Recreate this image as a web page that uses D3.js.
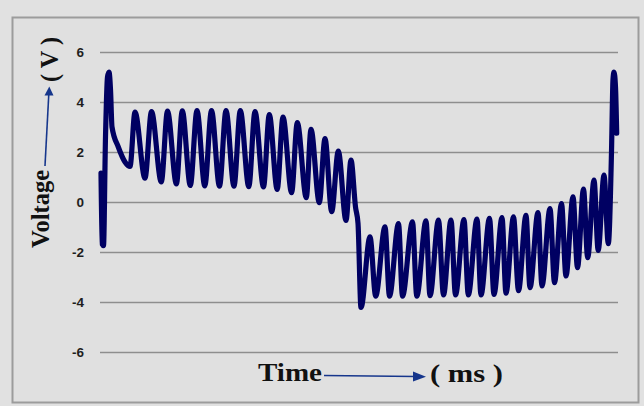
<!DOCTYPE html>
<html>
<head>
<meta charset="utf-8">
<script src="https://cdn.jsdelivr.net/npm/d3@7"></script>
<style>
  html, body { margin: 0; padding: 0; background: #e1e1e1; }
  svg { display: block; }
</style>
</head>
<body>
<svg id="chart" width="644" height="406"></svg>
<script>
// ---- data (time in ms, voltage in V) ----
const yTicks = [-6, -4, -2, 0, 2, 4, 6];
const xLabel = "Time";
const xUnit = "( ms )";
const yLabel = "Voltage";
const yUnit = "( V )";

// start-up transient
const onsetT = [0.1, 0.23, 0.35, 0.55, 0.75, 0.9, 1.05, 1.2, 1.83, 2.5, 3.0];
const onsetV = [1.16, -1.7, -1.75, 2.6, 5.0, 5.2, 4.5, 3.0, 2.2, 1.6, 1.42];

// positive half: ripple peaks and troughs
const posPeakT = [3.5, 5.15, 6.75, 8.23, 9.7, 11.15, 12.6, 14.03, 15.5, 16.93, 18.3, 19.73, 21.1, 22.5, 23.83, 25.1];
const posPeakV = [3.6, 3.62, 3.64, 3.65, 3.66, 3.66, 3.66, 3.66, 3.62, 3.5, 3.4, 3.18, 2.91, 2.54, 2.04, 1.68];
const posTroughT = [4.5, 6.13, 7.64, 9.03, 10.48, 11.95, 13.4, 14.88, 16.35, 17.72, 19.16, 20.63, 21.93, 23.17, 24.6];
const posTroughV = [0.95, 0.8, 0.72, 0.66, 0.64, 0.63, 0.63, 0.61, 0.6, 0.5, 0.37, 0.17, -0.03, -0.39, -0.74];

// polarity switch
const switchT = [25.55, 25.8, 26.1];
const switchV = [-0.2, -0.85, -4.22];

// negative half: ripple peaks and troughs
const negPeakT = [27.0, 28.5, 29.85, 31.25, 32.6, 33.85, 35.1, 36.4, 37.7, 38.95, 40.2, 41.35, 42.6, 43.8, 45.0, 46.15, 47.3, 48.35, 49.4, 50.4];
const negPeakV = [-1.39, -0.99, -0.86, -0.79, -0.75, -0.72, -0.72, -0.7, -0.68, -0.65, -0.62, -0.59, -0.53, -0.42, -0.26, -0.06, 0.21, 0.52, 0.88, 1.08];
const negTroughT = [27.57, 28.95, 30.25, 31.68, 33.0, 34.35, 35.55, 36.83, 38.1, 39.4, 40.6, 41.85, 43.0, 44.2, 45.45, 46.6, 47.75, 48.77, 49.82, 50.83];
const negTroughV = [-3.77, -3.77, -3.77, -3.77, -3.75, -3.72, -3.72, -3.72, -3.72, -3.7, -3.65, -3.55, -3.43, -3.36, -3.23, -2.96, -2.63, -2.23, -1.94, -1.67];

// final spike
const endT = [51.15, 51.3, 51.4, 51.55, 51.67];
const endV = [2.0, 4.9, 5.2, 4.6, 2.75];

// ---- build series ----
function pairs(ts, vs) { return ts.map((t, i) => ({ t: t, v: vs[i] })); }
const points = [].concat(
  pairs(onsetT, onsetV),
  pairs(posPeakT, posPeakV),
  pairs(posTroughT, posTroughV),
  pairs(switchT, switchV),
  pairs(negPeakT, negPeakV),
  pairs(negTroughT, negTroughV),
  pairs(endT, endV)
).sort((a, b) => a.t - b.t);

// ---- layout ----
const svg = d3.select("#chart");
const W = 644, H = 406;
const plot = { left: 100, right: 618, top: 52, bottom: 352 };

svg.append("rect").attr("x", 0).attr("y", 0).attr("width", W).attr("height", H).attr("fill", "#e1e1e1");
svg.append("rect")
  .attr("x", 12.5).attr("y", 17.5).attr("width", 626).attr("height", 385)
  .attr("fill", "#e0e0e0").attr("stroke", "#9c9c9c").attr("stroke-width", 2);

const x = d3.scaleLinear().domain([0, 51.8]).range([plot.left, plot.right]);
const y = d3.scaleLinear().domain([-6, 6]).range([plot.bottom, plot.top]);

// gridlines via axis
const yAxis = d3.axisLeft(y).tickValues(yTicks).tickSize(-(plot.right - plot.left)).tickPadding(16)
  .tickFormat(d => String(d));
const gy = svg.append("g").attr("transform", `translate(${plot.left},0)`).call(yAxis);
gy.select(".domain").remove();
gy.selectAll(".tick line").attr("stroke", "#8e8e8e").attr("stroke-width", 1.6);
gy.selectAll(".tick text")
  .attr("font-family", "'Liberation Sans', Arial, sans-serif")
  .attr("font-weight", "bold").attr("font-size", 13.5).attr("fill", "#1e1e1e");

// waveform
const line = d3.line().x(d => x(d.t)).y(d => y(d.v)).curve(d3.curveMonotoneX);
svg.append("path").datum(points)
  .attr("d", line).attr("fill", "none")
  .attr("stroke", "#000062").attr("stroke-width", 5.2)
  .attr("stroke-linejoin", "round").attr("stroke-linecap", "round");

// axis titles
const serif = "'Liberation Serif', 'Times New Roman', serif";
svg.append("text").text(xLabel)
  .attr("x", 258).attr("y", 381).attr("font-family", serif).attr("font-weight", "bold")
  .attr("font-size", 26).attr("fill", "#111").attr("textLength", 64).attr("lengthAdjust", "spacingAndGlyphs");
svg.append("text").text(xUnit)
  .attr("x", 430).attr("y", 382).attr("font-family", serif).attr("font-weight", "bold")
  .attr("font-size", 26).attr("fill", "#111").attr("textLength", 73).attr("lengthAdjust", "spacingAndGlyphs");

svg.append("text").text(yLabel)
  .attr("transform", "translate(49,248) rotate(-90)")
  .attr("font-family", serif).attr("font-weight", "bold")
  .attr("font-size", 26).attr("fill", "#111").attr("textLength", 78).attr("lengthAdjust", "spacingAndGlyphs");
svg.append("text").text(yUnit)
  .attr("transform", "translate(58,82) rotate(-90)")
  .attr("font-family", serif).attr("font-weight", "bold")
  .attr("font-size", 26).attr("fill", "#111").attr("textLength", 45).attr("lengthAdjust", "spacingAndGlyphs");

// arrows
const arrowCol = "#16368c";
svg.append("line").attr("x1", 324).attr("y1", 375.5).attr("x2", 416).attr("y2", 376.5)
  .attr("stroke", arrowCol).attr("stroke-width", 1.6);
svg.append("path").attr("d", "M413,371.5 L426,376.8 L413,381.5 Z").attr("fill", arrowCol);

svg.append("line").attr("x1", 45).attr("y1", 166).attr("x2", 48.8).attr("y2", 94)
  .attr("stroke", arrowCol).attr("stroke-width", 1.6);
svg.append("path").attr("d", "M44.5,95.5 L49.3,86.5 L53.5,95.5 Z").attr("fill", arrowCol);
</script>
</body>
</html>
